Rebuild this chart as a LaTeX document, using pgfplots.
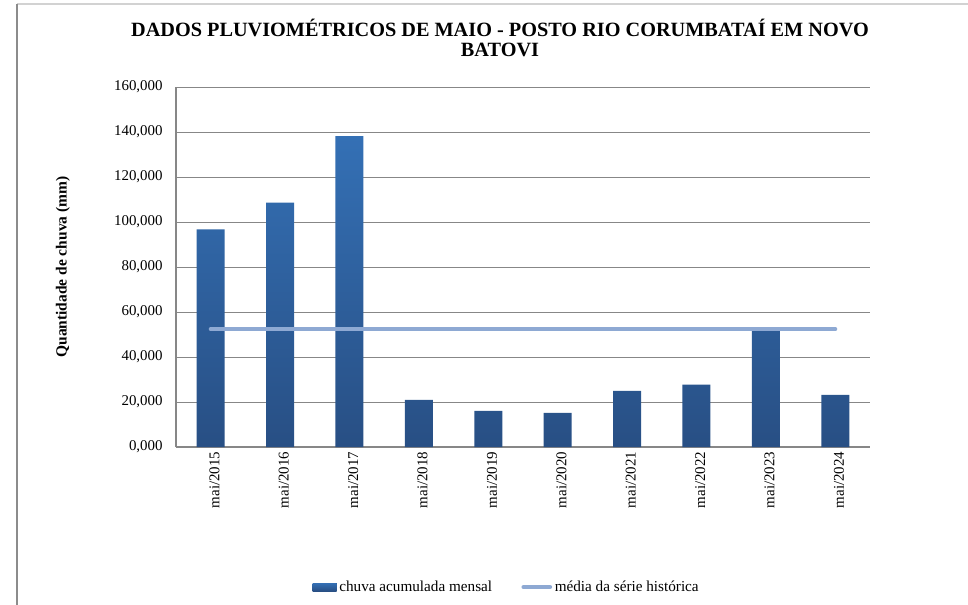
\documentclass[border=0pt]{standalone}
\usepackage{fontspec}
\setmainfont{Liberation Serif}
\usepackage{pgfplots}
\pgfplotsset{compat=1.18}

\definecolor{barTop}{HTML}{3470B5}
\definecolor{barBot}{HTML}{284F84}
\definecolor{mediaC}{HTML}{8EA9D3}
\definecolor{gridC}{HTML}{878787}

\begin{document}
\begin{tikzpicture}
% page = 968 x 605 px, 1px = 0.75pt, origin at top left
\useasboundingbox (0,0) rectangle (726pt,-453.75pt);
\draw[gray!35, line width=1.2pt] (12.75pt,-3pt) -- (740pt,-3pt);
\draw[gray!90, line width=1pt] (12.75pt,-3pt) -- (12.75pt,-470pt);

\node[font=\bfseries\fontsize{15.2}{15.5}\selectfont, align=center] at (375pt,-28.5pt)
  {DADOS PLUVIOMÉTRICOS DE MAIO - POSTO RIO CORUMBATAÍ EM NOVO\\BATOVI};

\begin{axis}[
    at={(132pt,-335.25pt)}, anchor=south west,
    scale only axis,
    width=520.5pt, height=270pt,
    xmin=-0.5, xmax=9.5,
    ymin=0, ymax=160,
    ytick={0,20,...,160},
    xtick={0,...,9},
    xticklabels={mai/2015,mai/2016,mai/2017,mai/2018,mai/2019,mai/2020,mai/2021,mai/2022,mai/2023,mai/2024},
    axis x line*=bottom, axis y line*=left,
    axis line style={gridC, line width=0.8pt, -},
    major tick length=0pt,
    ymajorgrids, grid style={gridC, line width=0.6pt},
    tick label style={font=\fontsize{11.2}{13}\selectfont},
    yticklabel style={xshift=-6.5pt},
    xticklabel style={rotate=90, anchor=east, yshift=-2.75pt},
    /pgf/number format/.cd, fixed, fixed zerofill, precision=3, use comma, 1000 sep={}, assume math mode=true,
    /pgfplots/.cd,
    ylabel={\bfseries Quantidade de chuva (mm)},
    ylabel style={font=\fontsize{11.6}{13}\selectfont, at={(-84.75pt,0.5)}, anchor=center, rotate=0},
    legend columns=2,
    legend style={at={(0.477,-0.389)}, anchor=center, draw=none,
      font=\fontsize{11.4}{13}\selectfont,
      /tikz/every even column/.append style={column sep=20pt}},
    legend cell align=left,
]
\addplot[ybar, bar width=21pt, draw=none, top color=barTop, bottom color=barBot,
  legend image code/.code={\fill[barBot] (0pt,-3pt) rectangle (18pt,3pt);}]
  coordinates {
  (0,96.7) (1,108.6) (2,138.2) (3,21.0) (4,16.1)
  (5,15.2) (6,25.0) (7,27.7) (8,51.8) (9,23.2)
};
\addlegendentry{chuva acumulada mensal}

\addplot[mediaC, line width=3pt, line cap=round, no markers,
  legend image code/.code={\draw[mediaC, line width=3pt, line cap=round] (0pt,0pt) -- (20pt,0pt);}]
  coordinates {(0,52.4) (9,52.4)};
\addlegendentry{média da série histórica}
\end{axis}
\end{tikzpicture}
\end{document}
